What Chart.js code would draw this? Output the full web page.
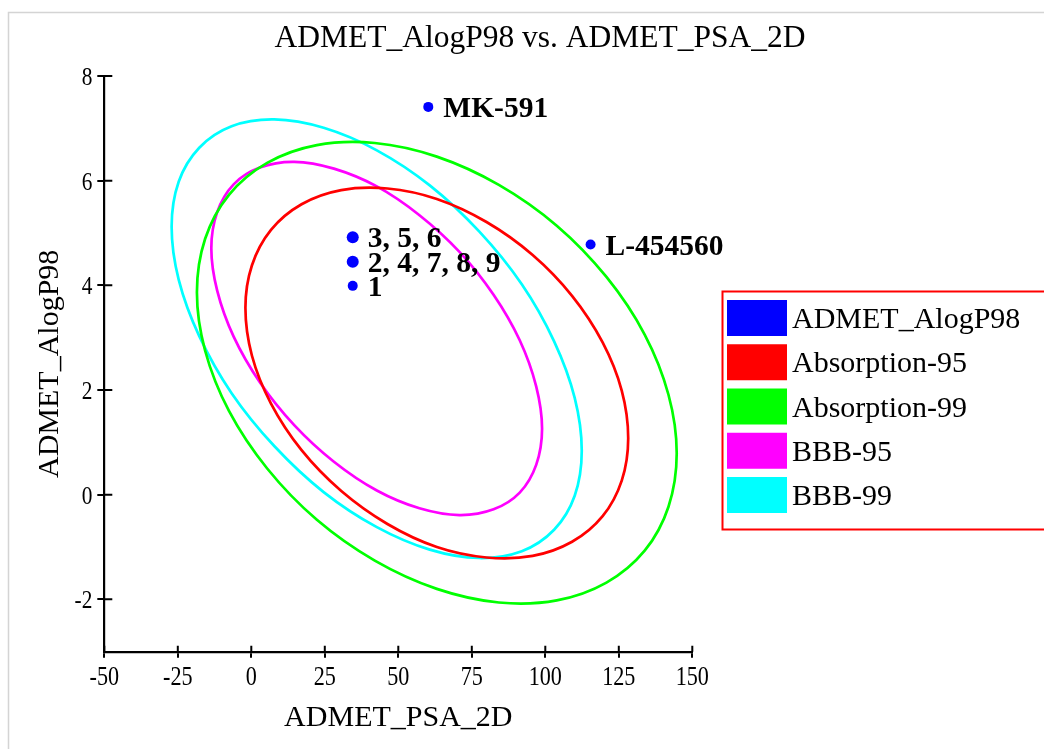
<!DOCTYPE html>
<html><head><meta charset="utf-8">
<script src="https://cdn.jsdelivr.net/npm/chart.js@4.4.0/dist/chart.umd.min.js"></script>
<style>html,body{margin:0;padding:0;background:#fff;overflow:hidden}#wrap{width:1044px;height:749px;position:relative}</style>
</head><body><div id="wrap"><canvas id="c" width="1044" height="749"></canvas></div>
<script>
const chartTitle = 'ADMET_AlogP98 vs. ADMET_PSA_2D';
const xTitle = 'ADMET_PSA_2D';
const yTitle = 'ADMET_AlogP98';
const xTicks = [-50, -25, 0, 25, 50, 75, 100, 125, 150];
const yTicks = [-2, 0, 2, 4, 6, 8];
const seriesNames = ['ADMET_AlogP98', 'Absorption-95', 'Absorption-99', 'BBB-95', 'BBB-99'];
const seriesColors = ['#0000ff', '#ff0000', '#00ff00', '#ff00ff', '#00ffff'];

const compoundLabels = ['1', '2, 4, 7, 8, 9', '3, 5, 6', 'MK-591', 'L-454560'];
const compoundPSA = [34.5, 34.5, 34.5, 60.2, 115.4];
const compoundAlogP = [3.99, 4.45, 4.92, 7.41, 4.78];

// contour points (PSA, AlogP)
const absorption95 = [[128.2,1.08],[126.0,1.99],[119.5,2.91],[109.1,3.80],[95.7,4.58],[80.0,5.21],[63.1,5.65],[46.3,5.85],[30.6,5.82],[17.1,5.55],[6.7,5.06],[0.2,4.38],[-2.0,3.57],[0.2,2.66],[6.7,1.74],[17.1,0.85],[30.6,0.07],[46.3,-0.56],[63.1,-1.00],[80.0,-1.20],[95.7,-1.17],[109.1,-0.90],[119.5,-0.41],[126.0,0.27]];
const absorption99 = [[144.7,0.79],[141.9,1.91],[133.8,3.06],[120.8,4.16],[103.9,5.14],[84.2,5.92],[63.1,6.46],[42.0,6.72],[22.3,6.68],[5.4,6.34],[-7.6,5.73],[-15.7,4.89],[-18.5,3.87],[-15.7,2.75],[-7.6,1.60],[5.4,0.50],[22.3,-0.48],[42.0,-1.26],[63.1,-1.80],[84.2,-2.06],[103.9,-2.02],[120.8,-1.68],[133.8,-1.07],[141.9,-0.23]];
const bbb95 = [[98.9,1.26],[96.9,2.07],[91.3,2.95],[82.4,3.82],[70.8,4.64],[57.2,5.34],[42.7,5.89],[28.1,6.23],[14.6,6.36],[2.9,6.25],[-6.0,5.93],[-11.6,5.40],[-13.6,4.71],[-11.6,3.90],[-6.0,3.02],[2.9,2.15],[14.6,1.33],[28.1,0.63],[42.7,0.08],[57.2,-0.26],[70.8,-0.39],[82.4,-0.28],[91.3,0.04],[96.9,0.57]];
const bbb99 = [[112.4,0.84],[110.0,1.85],[103.0,2.93],[92.0,4.02],[77.5,5.03],[60.7,5.91],[42.7,6.58],[24.6,7.01],[7.8,7.17],[-6.7,7.04],[-17.7,6.63],[-24.7,5.98],[-27.1,5.12],[-24.7,4.11],[-17.7,3.03],[-6.7,1.94],[7.8,0.93],[24.6,0.05],[42.7,-0.62],[60.7,-1.05],[77.5,-1.21],[92.0,-1.08],[103.0,-0.67],[110.0,-0.02]];

const FONT = "'Liberation Serif', 'Times New Roman', serif";
Chart.defaults.font.family = FONT;
Chart.defaults.color = '#000';

const toXY = arr => arr.map(p => ({x: p[0], y: p[1]}));
const ellipseSet = (i, pts) => ({
  label: seriesNames[i], data: toXY(pts), closed: true,
  borderColor: seriesColors[i], backgroundColor: seriesColors[i],
  borderWidth: 2.7, pointRadius: 0, tension: 0.34, fill: false
});

const datasets = [
  {
    label: seriesNames[0],
    data: compoundPSA.map((x, i) => ({x: x, y: compoundAlogP[i]})),
    showLine: false,
    backgroundColor: seriesColors[0], borderColor: seriesColors[0],
    pointRadius: ctx => (compoundLabels[ctx.dataIndex] || '').includes(',') ? 6 : 5,
    pointBorderWidth: 0
  },
  ellipseSet(1, absorption95),
  ellipseSet(2, absorption99),
  ellipseSet(3, bbb95),
  ellipseSet(4, bbb99)
];

const loopPlugin = {
  id: 'loopPlugin',
  beforeDatasetDraw(chart, args) {
    const ds = chart.data.datasets[args.index];
    const line = args.meta.dataset;
    if (ds.closed && line) {
      line._loop = true;
      line._fullLoop = true;
      line._pointsUpdated = false;
      delete line._segments;
      line._path = undefined;
    }
  }
};

// condensed tick labels, placed from the library's scales
function drawCondensed(ctx, text, x, y, align, size) {
  ctx.save();
  ctx.font = size + 'px ' + FONT;
  ctx.textAlign = align;
  ctx.textBaseline = 'alphabetic';
  ctx.translate(x, y);
  ctx.scale(0.82, 1);
  ctx.fillText(text, 0, 0);
  ctx.restore();
}

const decorPlugin = {
  id: 'decor',
  beforeDraw(chart) {
    const ctx = chart.ctx;
    ctx.save();
    ctx.strokeStyle = '#d4d4d4';
    ctx.lineWidth = 1.5;
    ctx.beginPath();
    ctx.moveTo(8.5, 749); ctx.lineTo(8.5, 12.5); ctx.lineTo(1044, 12.5);
    ctx.stroke();
    ctx.restore();
  },
  afterDatasetsDraw(chart) {
    const ctx = chart.ctx;
    const meta = chart.getDatasetMeta(0);
    ctx.save();
    ctx.fillStyle = '#000';
    ctx.font = 'bold 29.5px ' + FONT;
    ctx.textAlign = 'left';
    ctx.textBaseline = 'alphabetic';
    meta.data.forEach((pt, i) => {
      ctx.fillText(compoundLabels[i], pt.x + 15, pt.y + 10);
    });
    ctx.restore();
  },
  afterDraw(chart) {
    const ctx = chart.ctx;
    const xs = chart.scales.x, ys = chart.scales.y;
    ctx.save();
    // inner half of tick marks
    ctx.strokeStyle = '#000';
    ctx.lineWidth = 2;
    ctx.beginPath();
    xTicks.forEach(v => {
      const px = xs.getPixelForValue(v);
      ctx.moveTo(px, ys.bottom); ctx.lineTo(px, ys.bottom - 6);
    });
    yTicks.forEach(v => {
      const py = ys.getPixelForValue(v);
      ctx.moveTo(xs.left, py); ctx.lineTo(xs.left + 8, py);
    });
    ctx.stroke();
    // tick labels
    ctx.fillStyle = '#000';
    xTicks.forEach(v => {
      drawCondensed(ctx, String(v), xs.getPixelForValue(v), ys.bottom + 33.5, 'center', 27);
    });
    yTicks.forEach(v => {
      drawCondensed(ctx, String(v), xs.left - 12, ys.getPixelForValue(v) + 9, 'right', 26);
    });
    // title
    ctx.font = '31.5px ' + FONT;
    ctx.textAlign = 'center';
    ctx.textBaseline = 'alphabetic';
    ctx.fillText(chartTitle, 540, 47);
    // legend
    ctx.font = '30px ' + FONT;
    const bx = 722.5, by = 291.5, bh = 238;
    ctx.strokeStyle = '#ff0000';
    ctx.lineWidth = 2;
    ctx.strokeRect(bx, by, 340, bh);
    ctx.textAlign = 'left';
    chart.data.datasets.forEach((ds, i) => {
      const y = 300 + i * 44.25;
      ctx.fillStyle = ds.backgroundColor;
      ctx.fillRect(727, y, 60, 36);
      ctx.fillStyle = '#000';
      ctx.fillText(ds.label, 792, y + 28);
    });
    ctx.restore();
  }
};

new Chart(document.getElementById('c'), {
  type: 'line',
  data: {datasets: datasets},
  plugins: [loopPlugin, decorPlugin],
  options: {
    responsive: false,
    animation: false,
    devicePixelRatio: 1,
    layout: {padding: {top: 76, right: 351.7, bottom: 0, left: 0}},
    plugins: {legend: {display: false}, title: {display: false}, tooltip: {enabled: false}},
    scales: {
      x: {
        type: 'linear', min: -50, max: 150,
        afterBuildTicks: s => { s.ticks = xTicks.map(v => ({value: v})); },
        afterFit: s => { s.height = 97.3; },
        grid: {drawOnChartArea: false, color: '#000', lineWidth: 2, tickLength: 6},
        border: {color: '#000', width: 2.2},
        ticks: {display: false},
        title: {display: true, text: xTitle, color: '#000', font: {size: 30}, padding: {top: 0, bottom: 13}}
      },
      y: {
        type: 'linear', min: -3, max: 8,
        afterBuildTicks: s => { s.ticks = yTicks.map(v => ({value: v})); },
        afterFit: s => { s.width = 104.3; },
        grid: {drawOnChartArea: false, color: '#000', lineWidth: 2, tickLength: 7},
        border: {color: '#000', width: 2.2},
        ticks: {display: false},
        title: {display: true, text: yTitle, color: '#000', font: {size: 30}, padding: {top: 32, bottom: 0}}
      }
    }
  }
});
</script></body></html>
